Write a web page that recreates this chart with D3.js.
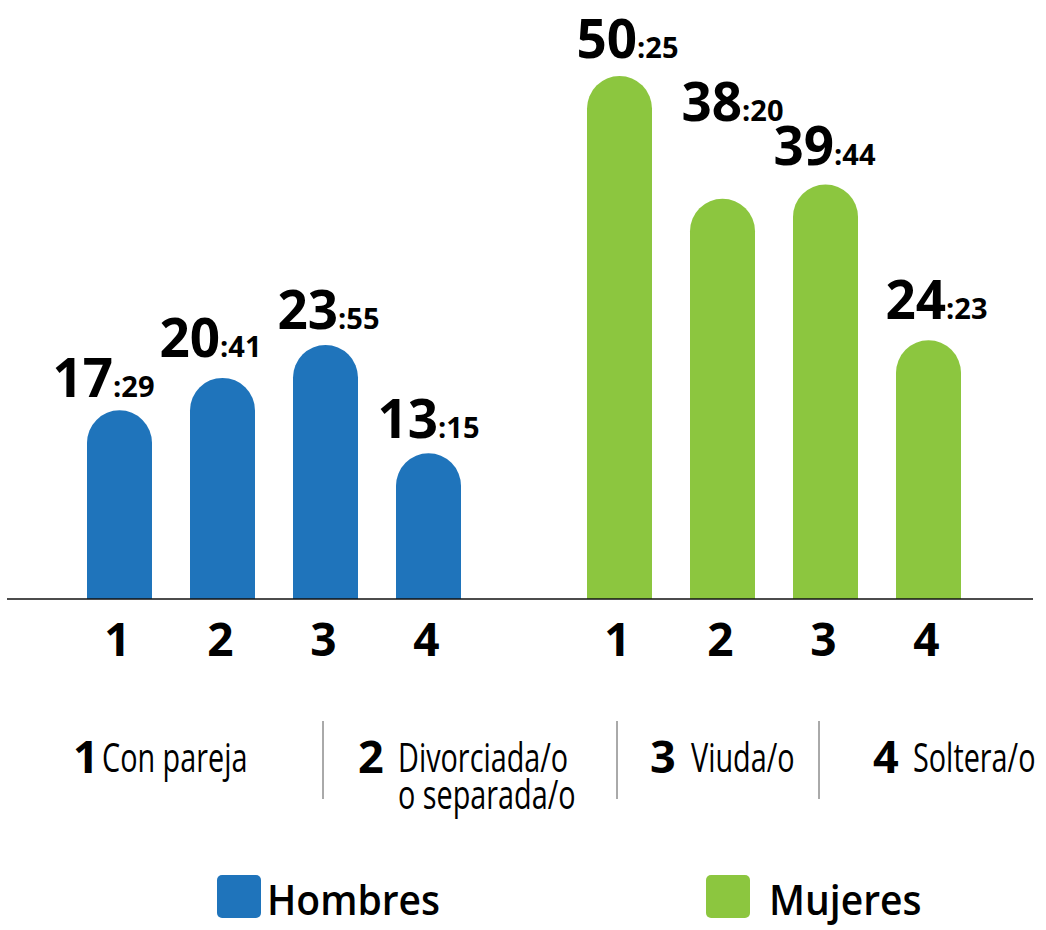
<!DOCTYPE html>
<html>
<head>
<meta charset="utf-8">
<script src="https://cdn.jsdelivr.net/npm/d3@7"></script>
<style>
	body { margin: 0; background: #fff; }
	svg { display: block; font-family: "Open Sans", "Noto Sans", sans-serif; }
</style>
</head>
<body>
<div id="chart"></div>
<script>

	var groups = ["Hombres", "Mujeres"];
	var categories = ["1", "2", "3", "4"];
	var categoryNames = [["Con pareja"], ["Divorciada/o", "o separada/o"], ["Viuda/o"], ["Soltera/o"]];

	// hours:minutes per category
	var hombres = ["17:29", "20:41", "23:55", "13:15"];
	var mujeres = ["50:25", "38:20", "39:44", "24:23"];

	var colors = {Hombres: "#1f74bb", Mujeres: "#8cc63f"};

	// the value labels were placed by hand in the original, small nudges [dx, dy]
	var labelNudge = [[-16, 3], [-12, -5], [3, 0], [0, 1], [8, -2], [10, -62], [-1, -4], [8, -5]];

	// category key layout (number x, text x) and divider lines
	var keyNumX = [73, 358, 650, 873];
	var keyTextX = [102, 398, 691, 913];
	var keySepX = [323, 617, 819];

	var width = 1046, height = 930, base = 599;

	function toHours(s){
		var p = s.split(":");
		return +p[0] + p[1] / 60;
	}

	var rows = [];
	groups.forEach(function(g){
		var vals = (g == "Hombres") ? hombres : mujeres;
		categories.forEach(function(c, i){
			rows.push({group: g, cat: c, label: vals[i], value: toHours(vals[i])});
		});
	});

	var svg = d3.select('#chart').append('svg')
		.attr('width', width)
		.attr('height', height);

	var x0 = d3.scaleBand().domain(groups).range([87, 961]).paddingInner(0.252).paddingOuter(0);
	var x1 = d3.scaleBand().domain(categories).range([0, x0.bandwidth()]).paddingInner(0.369).paddingOuter(0);
	var y = d3.scaleLinear().domain([-1.1, 52]).range([base, 60]);

	var bw = x1.bandwidth(), r = bw / 2;

	function barPath(d){
		var left = x0(d.group) + x1(d.cat), top = y(d.value);
		return "M" + left + "," + base +
			"V" + (top + r) +
			"A" + r + "," + r + " 0 0 1 " + (left + bw) + "," + (top + r) +
			"V" + base + "Z";
	}

	//bars
	svg.selectAll("path.bar")
		.data(rows)
		.enter()
		.append("path")
		.attr("class", "bar")
		.attr("d", barPath)
		.style("fill", function(d){ return colors[d.group]; });

	// baseline
	svg.append("line")
		.attr("x1", 7).attr("x2", 1033)
		.attr("y1", base).attr("y2", base)
		.attr("stroke", "#111")
		.attr("stroke-width", 1.5);

	// value labels
	var labels = svg.selectAll("text.value")
		.data(rows)
		.enter()
		.append("text")
		.attr("class", "value")
		.attr("text-anchor", "middle")
		.attr("fill", "#000")
		.attr("font-weight", 700)
		.attr("x", function(d, i){ return x0(d.group) + x1(d.cat) + bw / 2 + labelNudge[i][0]; })
		.attr("y", function(d, i){ return y(d.value) - 16 + labelNudge[i][1]; });

	labels.append("tspan")
		.attr("font-size", 53)
		.text(function(d){ return d.label.split(":")[0]; });
	labels.append("tspan")
		.attr("font-size", 29)
		.text(function(d){ return ":" + d.label.split(":")[1]; });

	// category numbers under the bars
	svg.selectAll("text.tick")
		.data(rows)
		.enter()
		.append("text")
		.attr("class", "tick")
		.attr("text-anchor", "middle")
		.attr("font-weight", 700)
		.attr("font-size", 46)
		.attr("x", function(d){ return x0(d.group) + x1(d.cat) + bw / 2 - 2; })
		.attr("y", 656)
		.text(function(d){ return d.cat; });

	// category key
	var key = svg.selectAll("g.key")
		.data(categories)
		.enter()
		.append("g")
		.attr("class", "key");

	key.append("text")
		.attr("font-weight", 700)
		.attr("font-size", 45)
		.attr("x", function(d, i){ return keyNumX[i]; })
		.attr("y", 773)
		.text(function(d){ return d; });

	key.each(function(d, i){
		var t = d3.select(this).append("text")
			.attr("font-size", 40)
			.attr("transform", "translate(" + keyTextX[i] + ",772) scale(0.72,1)");
		categoryNames[i].forEach(function(line, j){
			t.append("tspan")
				.attr("x", 0)
				.attr("dy", j == 0 ? 0 : 37)
				.text(line);
		});
	});

	svg.selectAll("line.sep")
		.data(keySepX)
		.enter()
		.append("line")
		.attr("class", "sep")
		.attr("x1", function(d){ return d; })
		.attr("x2", function(d){ return d; })
		.attr("y1", 721)
		.attr("y2", 799)
		.attr("stroke", "#555")
		.attr("stroke-width", 1);

	// series legend
	var legendX = {Hombres: 217, Mujeres: 706};
	var legend = svg.selectAll("g.legend")
		.data(groups)
		.enter()
		.append("g")
		.attr("class", "legend")
		.attr("transform", function(d){ return "translate(" + legendX[d] + ",875)"; });

	legend.append("rect")
		.attr("width", 44)
		.attr("height", 43)
		.attr("rx", 5)
		.style("fill", function(d){ return colors[d]; });

	legend.append("text")
		.attr("font-weight", 600)
		.attr("font-size", 42)
		.attr("transform", function(d){ return "translate(" + (d == "Hombres" ? 50 : 63) + ",40) scale(0.93,1)"; })
		.text(function(d){ return d; });

</script>
</body>
</html>
